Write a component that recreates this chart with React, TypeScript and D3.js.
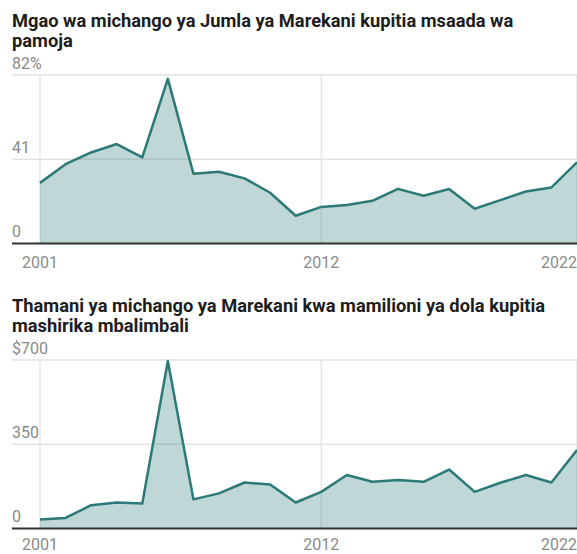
import React from 'react';
import * as d3 from 'd3';

// years on the x axis
const years = d3.range(2001, 2023);
const xTickYears = [2001, 2012, 2022];

// share of US total contributions through pooled aid (%)
const shareValues = [
  29.5, 38.6, 44.3, 48.4, 41.9, 80.1, 34.0, 34.9, 31.7, 24.7, 13.5,
  17.8, 18.7, 20.8, 26.6, 23.2, 26.5, 16.9, 21.1, 25.3, 27.3, 39.5,
];
const shareTicks = [0, 41, 82];
const shareTickLabels = ['0', '41', '82%'];
const shareTitle = ['Mgao wa michango ya Jumla ya Marekani kupitia msaada wa', 'pamoja'];

// value of US contributions, millions of dollars
const valueValues = [
  37, 44, 97, 108, 104, 696, 121, 146, 191, 183, 108,
  152, 222, 194, 201, 194, 245, 152, 190, 222, 191, 326,
];
const valueTicks = [0, 350, 700];
const valueTickLabels = ['0', '350', '$700'];
const valueTitle = ['Thamani ya michango ya Marekani kwa mamilioni ya dola kupitia', 'mashirika mbalimbali'];

const W = 577;
const H = 554;
const FONT = 'Roboto, "Noto Sans", sans-serif';
const LINE = '#2b7a77';

type PanelProps = {
  title: string[];
  values: number[];
  ticks: number[];
  tickLabels: string[];
  top: number; // baseline of first title line
  labelGap: number; // baseline -> x label baseline
};

const Panel = ({ title, values, ticks, tickLabels, top, labelGap }: PanelProps) => {
  const plotTop = top + 48;
  const plotBottom = top + 216.5;
  const left = 12;

  const x = d3.scaleLinear().domain([2001, 2022]).range([40, 577]);
  const y = d3.scaleLinear().domain([0, ticks[ticks.length - 1]]).range([plotBottom, plotTop]);

  const pts = values.map((v, i) => ({ year: years[i], v }));
  const area = d3.area<{ year: number; v: number }>()
    .x(d => x(d.year))
    .y0(y(0))
    .y1(d => y(d.v));
  const line = d3.line<{ year: number; v: number }>()
    .x(d => x(d.year))
    .y(d => y(d.v));

  return (
    <g>
      {title.map((t, i) => (
        <text key={t} x={left} y={top + i * 20} fontSize={18.3} fontWeight={700} fill="#1d1d1d" fontFamily={FONT}>
          {t}
        </text>
      ))}
      {ticks.map((t, i) => (
        <g key={t}>
          {t !== 0 && (
            <line x1={left} x2={W} y1={y(t)} y2={y(t)} stroke="#e3e3e3" strokeWidth={1.3} />
          )}
          <text x={left} y={y(t) - 6.5} fontSize={16} fill="#8a8a8a" fontFamily={FONT}>
            {tickLabels[i]}
          </text>
        </g>
      ))}
      {xTickYears.map(yr => (
        <line key={yr} x1={x(yr)} x2={x(yr)} y1={plotTop} y2={plotBottom} stroke="#e3e3e3" strokeWidth={1.3} />
      ))}
      <path d={area(pts) ?? ''} fill={LINE} fillOpacity={0.3} />
      <path d={line(pts) ?? ''} fill="none" stroke={LINE} strokeWidth={2.5} strokeLinejoin="round" />
      <line x1={left} x2={W} y1={plotBottom} y2={plotBottom} stroke="#333" strokeWidth={2} />
      {xTickYears.map((yr, i) => (
        <text
          key={yr}
          x={i === xTickYears.length - 1 ? W : x(yr)}
          y={plotBottom + labelGap}
          fontSize={16}
          fill="#8a8a8a"
          fontFamily={FONT}
          textAnchor={i === xTickYears.length - 1 ? 'end' : 'middle'}
        >
          {yr}
        </text>
      ))}
    </g>
  );
};

export default function App() {
  return (
    <svg
      width={W}
      height={H}
      style={{ position: 'absolute', left: 0, top: 0, background: '#fff' }}
    >
      <Panel title={shareTitle} values={shareValues} ticks={shareTicks} tickLabels={shareTickLabels} top={27} labelGap={24.5} />
      <Panel title={valueTitle} values={valueValues} ticks={valueTicks} tickLabels={valueTickLabels} top={312} labelGap={21.5} />
    </svg>
  );
}
